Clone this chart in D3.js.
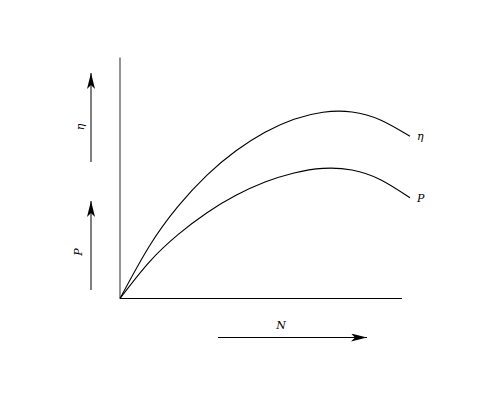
<!DOCTYPE html>
<html><head><meta charset="utf-8">
<script src="https://cdn.jsdelivr.net/npm/d3@7"></script>
<style>html,body{margin:0;padding:0;background:#fff;}</style>
</head><body>
<svg id="c" width="500" height="400"></svg>
<script>
// data (arbitrary units: speed N on x, value on y)
const seriesNames = ["η", "P"];
const nValues = [0, 10, 20, 30, 40, 50, 60, 70, 80, 90, 100];
const etaValues = [0, 21.5, 38.2, 51.2, 61.3, 69.0, 74.4, 77.3, 77.4, 74.0, 67.3];
const pValues = [0, 15.0, 26.5, 35.6, 42.8, 48.3, 52.1, 54.0, 53.3, 49.2, 41.8];
const xAxisLabel = "N";

const svg = d3.select("#c");
const x = d3.scaleLinear().domain([0, 100]).range([120, 410]);
const y = d3.scaleLinear().domain([0, 100]).range([298.5, 57.5]);

const defs = svg.append("defs");
defs.append("marker").attr("id","ah").attr("viewBox","0 0 16 8")
  .attr("refX",16).attr("refY",4).attr("markerWidth",16).attr("markerHeight",8)
  .attr("markerUnits","userSpaceOnUse").attr("orient","auto")
  .append("path").attr("d","M0,0 L16,4 L0,8 L4,4 Z").attr("fill","#000");

// axes
svg.append("line").attr("x1",x(0)).attr("x2",x(0)).attr("y1",y(0)).attr("y2",y(100))
  .attr("stroke","#666").attr("stroke-width",1.4);
svg.append("line").attr("x1",x(0)).attr("x2",x(97.2)).attr("y1",y(0)).attr("y2",y(0))
  .attr("stroke","#000").attr("stroke-width",1.2);

const line = d3.line().x(d=>x(d[0])).y(d=>y(d[1])).curve(d3.curveNatural);
const etaData = nValues.map((n,i)=>[n, etaValues[i]]);
const pData = nValues.map((n,i)=>[n, pValues[i]]);
[etaData, pData].forEach(d=>{
  svg.append("path").datum(d).attr("d",line).attr("fill","none")
    .attr("stroke","#000").attr("stroke-width",1.1);
});

const fnt = "'DejaVu Serif', 'Liberation Serif', serif";
// curve labels
svg.append("text").attr("x",x(100)+7).attr("y",y(etaValues[etaValues.length-1])+4)
  .attr("font-family",fnt).attr("font-style","italic").attr("font-size",11).text(seriesNames[0]);
svg.append("text").attr("x",x(100)+7).attr("y",y(pValues[pValues.length-1])+4)
  .attr("font-family",fnt).attr("font-style","italic").attr("font-size",11).text(seriesNames[1]);

// direction arrows
function arrow(x1,y1,x2,y2){
  svg.append("line").attr("x1",x1).attr("y1",y1).attr("x2",x2).attr("y2",y2)
    .attr("stroke","#000").attr("stroke-width",1).attr("marker-end","url(#ah)");
}
arrow(91,162,91,73);
arrow(91,290,91,201);
arrow(218,337.5,367,337.5);

svg.append("text").attr("transform","translate(84,127) rotate(-90)").attr("text-anchor","middle")
  .attr("font-family",fnt).attr("font-style","italic").attr("font-size",11).text(seriesNames[0]);
svg.append("text").attr("transform","translate(82,252) rotate(-90)").attr("text-anchor","middle")
  .attr("font-family",fnt).attr("font-style","italic").attr("font-size",11).text(seriesNames[1]);
svg.append("text").attr("x",281).attr("y",329).attr("text-anchor","middle")
  .attr("font-family",fnt).attr("font-style","italic").attr("font-size",11).text(xAxisLabel);
</script>
</body></html>
